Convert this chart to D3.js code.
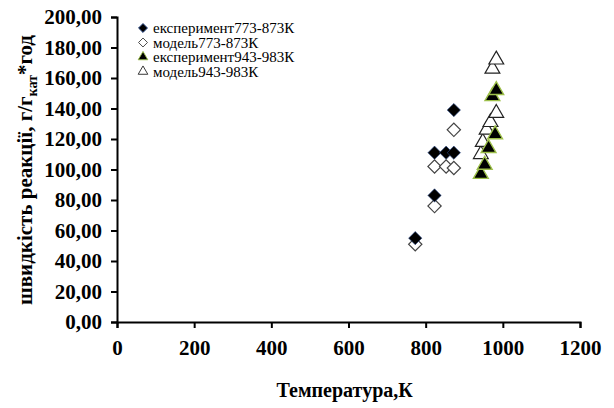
<!DOCTYPE html>
<html>
<head>
<meta charset="utf-8">
<script src="https://cdn.jsdelivr.net/npm/d3@7"></script>
<style>
  body { margin: 0; background: #fff; }
</style>
</head>
<body>
<div id="canvas"></div>
<script>
// data
const expLowT = [773, 823, 823, 853, 873, 873];
const expLowV = [55, 83, 111, 111, 111, 139];
const modLowT = [773, 823, 823, 853, 873, 873];
const modLowV = [51, 76, 102, 102, 101, 126];
const expHighT = [943, 953, 963, 980, 973, 983];
const expHighV = [97, 103, 114, 123, 148, 152];
const modHighT = [943, 948, 958, 968, 983, 973, 983];
const modHighV = [110, 118, 126, 131, 137, 166, 172];
const seriesNames = ["експеримент773-873К", "модель773-873К", "експеримент943-983К", "модель943-983К"];
const xTicks = [0, 200, 400, 600, 800, 1000, 1200];
const yTicks = [0, 20, 40, 60, 80, 100, 120, 140, 160, 180, 200];

const width = 614;
const height = 408;
const margin = { top: 17, left: 117, bottom: 86, right: 34 };
const iwidth = width - margin.left - margin.right;
const iheight = height - margin.top - margin.bottom;
const serif = "Liberation Serif";

const svg = d3.select("#canvas").append("svg")
  .attr("width", width)
  .attr("height", height)
  .attr("font-family", serif);

const g = svg.append("g")
  .attr("transform", `translate(${margin.left},${margin.top})`);

const x = d3.scaleLinear().domain([0, 1200]).range([0, iwidth]);
const y = d3.scaleLinear().domain([0, 200]).range([iheight, 0]);

const fmt = d => d3.format(".2f")(d).replace(".", ",");

const xAxis = g.append("g")
  .attr("transform", `translate(0,${iheight})`)
  .call(d3.axisBottom(x).tickValues(xTicks).tickSize(6).tickPadding(12).tickFormat(d3.format("d")));
const yAxis = g.append("g")
  .call(d3.axisLeft(y).tickValues(yTicks).tickSize(6).tickPadding(9).tickFormat(fmt));

[xAxis, yAxis].forEach(a => {
  a.attr("font-family", serif).attr("font-size", 21).attr("font-weight", "bold");
  a.select(".domain").attr("stroke", "#000").attr("stroke-width", 2);
  a.selectAll(".tick line").attr("stroke", "#000").attr("stroke-width", 2);
  a.selectAll(".tick text").attr("fill", "#000");
});

const diamond = d3.symbol().type(d3.symbolSquare).size(88);
const triangle = d3.symbol().type(d3.symbolTriangle).size(95);

const series = [
  { t: expLowT, v: expLowV, sym: diamond, rot: 45, fill: "#000", stroke: "#2a4a8a", sw: 0.6 },
  { t: modLowT, v: modLowV, sym: diamond, rot: 45, fill: "#fff", stroke: "#444", sw: 1.2 },
  { t: expHighT, v: expHighV, sym: triangle, rot: 0, fill: "#000", stroke: "#9dbf4a", sw: 1.4 },
  { t: modHighT, v: modHighV, sym: triangle, rot: 0, fill: "#fff", stroke: "#222", sw: 1.2 }
];

// model series drawn first so filled markers sit on top
[1, 3, 0, 2].forEach(i => {
  const s = series[i];
  g.append("g").selectAll("path")
    .data(s.t.map((t, j) => [t, s.v[j]]))
    .enter()
    .append("path")
    .attr("d", s.sym)
    .attr("transform", d => `translate(${x(d[0])},${y(d[1])}) rotate(${s.rot})`)
    .attr("fill", s.fill)
    .attr("stroke", s.stroke)
    .attr("stroke-width", s.sw);
});

// legend
const legend = svg.append("g").attr("transform", "translate(143,28)");
series.forEach((s, i) => {
  const row = legend.append("g").attr("transform", `translate(0,${i * 14.5})`);
  row.append("path")
    .attr("d", s.sym.size(40)())
    .attr("transform", `rotate(${s.rot})`)
    .attr("fill", s.fill)
    .attr("stroke", s.stroke)
    .attr("stroke-width", 0.9);
  row.append("text")
    .attr("x", 10)
    .attr("y", 5)
    .attr("font-family", serif)
    .attr("font-size", 15)
    .text(seriesNames[i]);
  s.sym.size(i < 2 ? 88 : 95);
});

// axis titles
svg.append("text")
  .attr("x", x(590) + margin.left)
  .attr("y", 397)
  .attr("text-anchor", "middle")
  .attr("font-family", serif)
  .attr("font-size", 20)
  .attr("font-weight", "bold")
  .text("Температура,К");

const yt = svg.append("text")
  .attr("transform", "translate(32,170) rotate(-90)")
  .attr("text-anchor", "middle")
  .attr("font-family", serif)
  .attr("font-size", 21)
  .attr("font-weight", "bold");
yt.append("tspan").text("швидкість реакції, г/г");
yt.append("tspan").attr("dy", 5).attr("font-size", 14).text("кат");
yt.append("tspan").attr("dy", -5).text("*год");
</script>
</body>
</html>
